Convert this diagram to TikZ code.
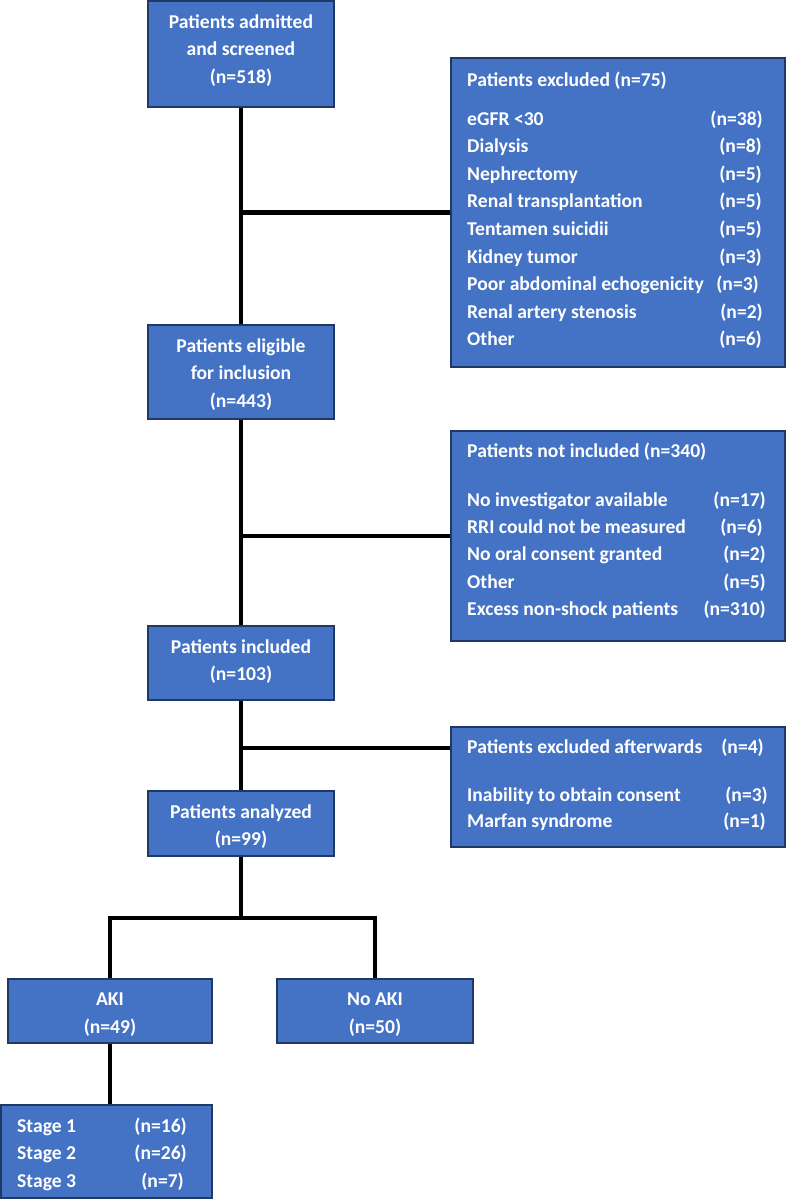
\documentclass[tikz,border=0pt]{standalone}
\usepackage{fontspec}
\setmainfont{Carlito}
\definecolor{boxfill}{HTML}{4472C4}
\definecolor{boxline}{HTML}{203864}
\begin{document}
\begin{tikzpicture}[x=1pt,y=-1pt,
  box/.style={draw=boxline, line width=1.3pt, fill=boxfill, inner sep=0pt, rectangle},
  txt/.style={text=white, font=\fontsize{19.6}{22}\selectfont\bfseries, inner sep=0pt, anchor=base},
  lt/.style={txt, anchor=base west},
  rt/.style={txt, anchor=base east},
  conn/.style={line width=4.6pt, black}]
\useasboundingbox[fill=white] (0,0) rectangle (787,1200);

% boxes
\node[box, minimum width=186pt, minimum height=106pt] (b1) at (241,54) {};
\node[box, minimum width=186pt, minimum height=94pt] (b2) at (241,372) {};
\node[box, minimum width=186pt, minimum height=74pt] (b3) at (241,663) {};
\node[box, minimum width=186pt, minimum height=65pt] (b4) at (241,823.5) {};
\node[box, minimum width=334pt, minimum height=309pt] (ex1) at (618,212.5) {};
\node[box, minimum width=334pt, minimum height=210pt] (ex2) at (618,536) {};
\node[box, minimum width=334pt, minimum height=120pt] (ex3) at (618,787) {};
\node[box, minimum width=204pt, minimum height=64pt] (aki) at (110,1011) {};
\node[box, minimum width=196pt, minimum height=64pt] (noaki) at (375,1011) {};
\node[box, minimum width=211pt, minimum height=93pt] (stage) at (106.5,1151.5) {};

% connectors
\coordinate (j3) at (241,748);
\coordinate (sp) at (241,918);
\draw[conn] (b1.south) -- (b2.north);
\draw[conn] (b2.south) -- (b3.north);
\draw[conn] (b3.south) -- (b4.north);
\draw[conn] (b1.south |- ex1.west) -- (ex1.west);
\draw[conn] (b2.south |- ex2.west) -- (ex2.west);
\draw[conn] (j3) -- (j3 -| ex3.west);
\draw[conn] (b4.south) -- (sp);
\draw[conn] (aki.north) |- (sp) -| (noaki.north);
\draw[conn] (aki.south) -- (aki.south |- stage.north);

% centred box texts
\node[txt] (b1a) at (241,28) {Patients admitted};
\node[txt] (b1b) at (241,55.5) {and screened};
\node[txt] (b1c) at (241,83) {(n=518)};
\node[txt] (b2a) at (241,352) {Patients eligible};
\node[txt] (b2b) at (241,379.5) {for inclusion};
\node[txt] (b2c) at (241,407) {(n=443)};
\node[txt] (b3a) at (241,653) {Patients included};
\node[txt] (b3b) at (241,680.5) {(n=103)};
\node[txt] (b4a) at (241,818) {Patients analyzed};
\node[txt] (b4b) at (241,845.5) {(n=99)};
\node[txt] (aka) at (110,1005.5) {AKI};
\node[txt] (akb) at (110,1033) {(n=49)};
\node[txt] (naa) at (375,1005.5) {No AKI};
\node[txt] (nab) at (375,1033) {(n=50)};

% excluded list
\node[lt] (e1t) at (467,86) {Patients excluded (n=75)};
\foreach \k/\a/\n/\r in {0/eGFR <30/(n=38)/763, 1/Dialysis/(n=8)/762, 2/Nephrectomy/(n=5)/762,
  3/Renal transplantation/(n=5)/762, 4/Tentamen suicidii/(n=5)/762, 5/Kidney tumor/(n=3)/762,
  6/Poor abdominal echogenicity/(n=3)/759, 7/Renal artery stenosis/(n=2)/763, 8/Other/(n=6)/762}{
  \node[lt] (e1l\k) at (467,125+27.6*\k) {\a};
  \node[rt] (e1r\k) at (\r,125+27.6*\k) {\n};
}

% not included list
\node[lt] (e2t) at (467,457) {Patients not included (n=340)};
\foreach \k/\a/\n/\r in {0/No investigator available/(n=17)/766, 1/RRI could not be measured/(n=6)/763,
  2/No oral consent granted/(n=2)/766, 3/Other/(n=5)/766, 4/Excess non-shock patients/(n=310)/766}{
  \node[lt] (e2l\k) at (467,506+27.4*\k) {\a};
  \node[rt] (e2r\k) at (\r,506+27.4*\k) {\n};
}

% excluded afterwards
\node[lt] (e3t) at (467,753) {Patients excluded afterwards};
\node[rt] (e3n) at (764,753) {(n=4)};
\node[lt] (e3a) at (467,801) {Inability to obtain consent};
\node[rt] (e3an) at (768,801) {(n=3)};
\node[lt] (e3b) at (467,827.5) {Marfan syndrome};
\node[rt] (e3bn) at (766,827.5) {(n=1)};

% stages
\foreach \k/\a/\n/\r in {0/Stage 1/(n=16)/187, 1/Stage 2/(n=26)/187, 2/Stage 3/(n=7)/184}{
  \node[lt] (sl\k) at (17,1132+27.5*\k) {\a};
  \node[rt] (sr\k) at (\r,1132+27.5*\k) {\n};
}
\end{tikzpicture}
\end{document}
